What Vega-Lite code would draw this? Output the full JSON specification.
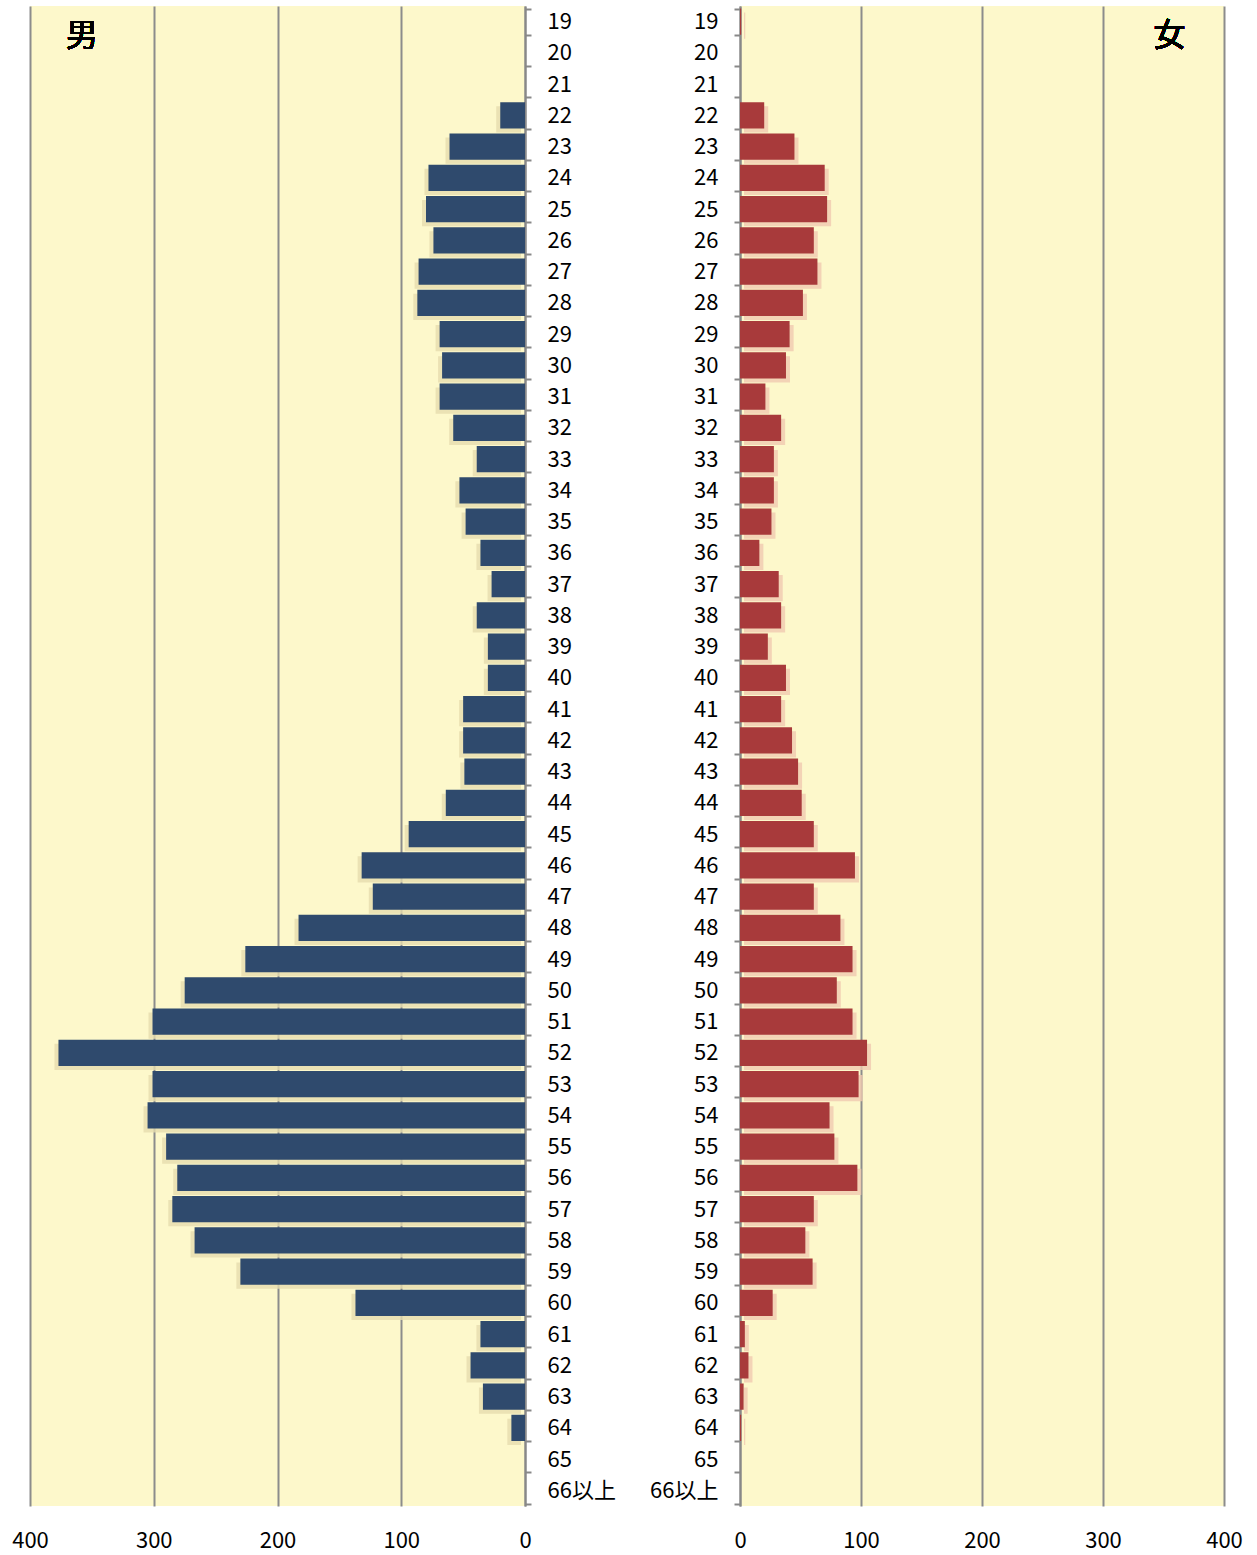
{
  "$schema": "https://vega.github.io/schema/vega-lite/v6.json",
  "padding": {"left": 11, "top": -5, "right": 5, "bottom": 5},
  "background": "white",
  "spacing": 15,
  "config": {
    "view": {"fill": "#FDF8CB", "stroke": null},
    "font": "Noto Sans CJK JP",
    "axis": {"labelColor": "#000000", "labelFontSize": 22, "labelFont": "Noto Sans CJK JP", "title": null}
  },
  "datasets": {
    "pop": [
      {"age": "19", "male": 0, "female": 1},
      {"age": "20", "male": 0, "female": 0},
      {"age": "21", "male": 0, "female": 0},
      {"age": "22", "male": 20, "female": 20},
      {"age": "23", "male": 61, "female": 45},
      {"age": "24", "male": 78, "female": 70},
      {"age": "25", "male": 80, "female": 72},
      {"age": "26", "male": 74, "female": 61},
      {"age": "27", "male": 86, "female": 64},
      {"age": "28", "male": 87, "female": 52},
      {"age": "29", "male": 69, "female": 41},
      {"age": "30", "male": 67, "female": 38},
      {"age": "31", "male": 69, "female": 21},
      {"age": "32", "male": 58, "female": 34},
      {"age": "33", "male": 39, "female": 28},
      {"age": "34", "male": 53, "female": 28},
      {"age": "35", "male": 48, "female": 26},
      {"age": "36", "male": 36, "female": 16},
      {"age": "37", "male": 27, "female": 32},
      {"age": "38", "male": 39, "female": 34},
      {"age": "39", "male": 30, "female": 23},
      {"age": "40", "male": 30, "female": 38},
      {"age": "41", "male": 50, "female": 34},
      {"age": "42", "male": 50, "female": 43},
      {"age": "43", "male": 49, "female": 48},
      {"age": "44", "male": 64, "female": 51},
      {"age": "45", "male": 94, "female": 61},
      {"age": "46", "male": 132, "female": 95},
      {"age": "47", "male": 123, "female": 61},
      {"age": "48", "male": 183, "female": 83},
      {"age": "49", "male": 226, "female": 93},
      {"age": "50", "male": 275, "female": 80},
      {"age": "51", "male": 301, "female": 93},
      {"age": "52", "male": 377, "female": 105},
      {"age": "53", "male": 301, "female": 98},
      {"age": "54", "male": 305, "female": 74},
      {"age": "55", "male": 290, "female": 78},
      {"age": "56", "male": 281, "female": 97},
      {"age": "57", "male": 285, "female": 61},
      {"age": "58", "male": 267, "female": 54},
      {"age": "59", "male": 230, "female": 60},
      {"age": "60", "male": 137, "female": 27},
      {"age": "61", "male": 36, "female": 4},
      {"age": "62", "male": 44, "female": 7},
      {"age": "63", "male": 34, "female": 3},
      {"age": "64", "male": 11, "female": 1},
      {"age": "65", "male": 0, "female": 0},
      {"age": "66以上", "male": 0, "female": 0}
    ]
  },
  "hconcat": [
    {
      "width": 495,
      "height": 1500,
      "data": {"name": "pop"},
      "encoding": {
        "y": {
          "field": "age", "type": "ordinal", "sort": null,
          "scale": {"paddingInner": 0.16, "paddingOuter": 0.08},
          "axis": {
            "orient": "right", "tickBand": "extent", "tickSize": 6, "tickColor": "#888888", "tickWidth": 2,
            "domainColor": "#888888", "domainWidth": 2, "labelAlign": "left", "labelPadding": 16,
            "labelAngle": 0, "minExtent": 100, "maxExtent": 100, "grid": false
          }
        },
        "x": {
          "field": "male", "type": "quantitative",
          "scale": {"domain": [0, 400], "reverse": true, "nice": false},
          "axis": {
            "values": [0, 100, 200, 300, 400], "grid": true, "gridColor": "#8C8C8C", "gridWidth": 2, "gridOpacity": 1,
            "ticks": false, "domain": false, "labelPadding": 24, "labelFlush": false
          }
        }
      },
      "layer": [
        {"mark": {"type": "bar", "color": "#E6DCAE", "opacity": 0.8, "xOffset": -4, "yOffset": 4}},
        {"mark": {"type": "bar", "color": "#2F4A6D"}},
        {
          "mark": {"type": "text", "fontSize": 32, "color": "#000000", "dy": 14, "font": "Noto Sans CJK JP"},
          "encoding": {
            "x": {"datum": 358, "type": "quantitative"},
            "y": {"datum": "19", "type": "ordinal"},
            "text": {"value": "男"}
          }
        }
      ]
    },
    {
      "width": 484,
      "height": 1500,
      "data": {"name": "pop"},
      "encoding": {
        "y": {
          "field": "age", "type": "ordinal", "sort": null,
          "scale": {"paddingInner": 0.16, "paddingOuter": 0.08},
          "axis": {
            "orient": "left", "tickBand": "extent", "tickSize": 6, "tickColor": "#888888", "tickWidth": 2,
            "domainColor": "#888888", "domainWidth": 2, "labelAlign": "right", "labelPadding": 16,
            "labelAngle": 0, "minExtent": 100, "maxExtent": 100, "grid": false
          }
        },
        "x": {
          "field": "female", "type": "quantitative",
          "scale": {"domain": [0, 400], "nice": false},
          "axis": {
            "values": [0, 100, 200, 300, 400], "grid": true, "gridColor": "#8C8C8C", "gridWidth": 2, "gridOpacity": 1,
            "ticks": false, "domain": false, "labelPadding": 24, "labelFlush": false
          }
        }
      },
      "layer": [
        {"mark": {"type": "bar", "color": "#F0C9B0", "opacity": 0.8, "xOffset": 4, "yOffset": 4}},
        {"mark": {"type": "bar", "color": "#A83A3B"}},
        {
          "mark": {"type": "text", "fontSize": 32, "color": "#000000", "dy": 14, "font": "Noto Sans CJK JP"},
          "encoding": {
            "x": {"datum": 355, "type": "quantitative"},
            "y": {"datum": "19", "type": "ordinal"},
            "text": {"value": "女"}
          }
        }
      ]
    }
  ]
}
